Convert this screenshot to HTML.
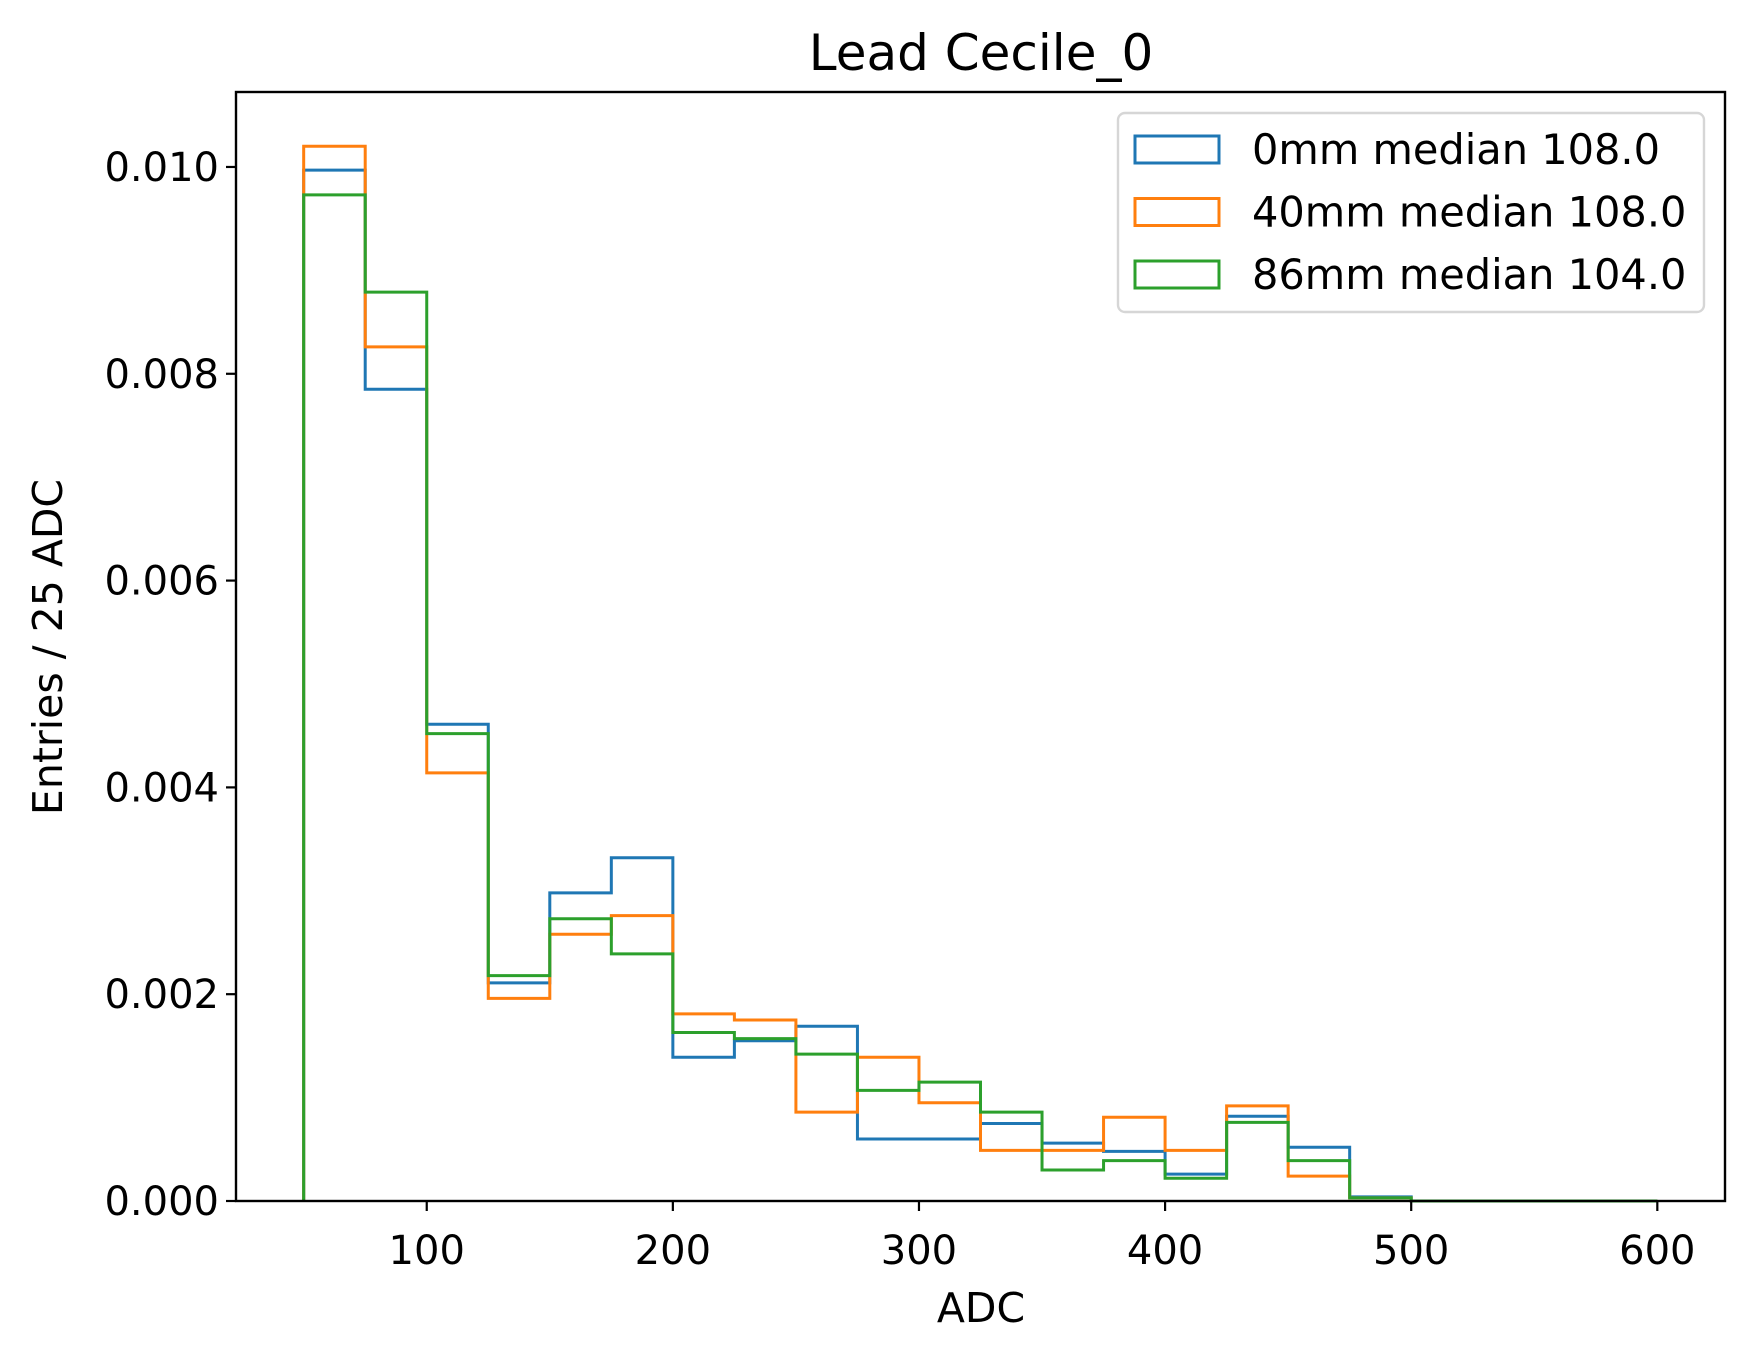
<!DOCTYPE html>
<html><head><meta charset="utf-8"><style>
body{margin:0;background:#fff;}
svg text{font-family:"DejaVu Sans","Liberation Sans",sans-serif;fill:#000;}
</style></head><body>
<svg id="chart" width="1755" height="1361" viewBox="0 0 1755 1361" xmlns="http://www.w3.org/2000/svg">
<rect width="1755" height="1361" fill="#fff"/>
<text x="981" y="70" font-size="50" text-anchor="middle">Lead Cecile_0</text>
<g id="marks"></g>
<rect x="236" y="92" width="1489" height="1109" fill="none" stroke="#000" stroke-width="2.4"/>
<g id="ticks"></g>
<text x="981" y="1322" font-size="41" text-anchor="middle">ADC</text>
<text transform="translate(62,647) rotate(-90)" font-size="41" text-anchor="middle">Entries / 25 ADC</text>
<g>
<rect x="1118" y="113" width="586" height="199" rx="7" fill="#fff" fill-opacity="0.8" stroke="#d6d6d6" stroke-width="2.4"/>
<g id="legend-entries"></g>
</g>
</svg>
<script>
const binEdges = [50,75,100,125,150,175,200,225,250,275,300,325,350,375,400,425,450,475,500,525,550,575,600];
const seriesNames = ["0mm median 108.0","40mm median 108.0","86mm median 104.0"];
const seriesColors = ["#1f77b4","#ff7f0e","#2ca02c"];
const blueValues = [0.00997,0.00785,0.00461,0.00211,0.00298,0.00332,0.00139,0.00155,0.00169,0.00060,0.00060,0.00075,0.00056,0.00048,0.00026,0.00082,0.00052,0.00004,0,0,0,0];
const orangeValues = [0.01020,0.00826,0.00414,0.00196,0.00258,0.00276,0.00181,0.00175,0.00086,0.00139,0.00095,0.00049,0.00049,0.00081,0.00049,0.00092,0.00024,0.00003,0,0,0,0];
const greenValues = [0.00973,0.00879,0.00452,0.00218,0.00273,0.00239,0.00163,0.00157,0.00142,0.00107,0.00115,0.00086,0.00030,0.00039,0.00022,0.00076,0.00039,0.00003,0,0,0,0];
const xTicks = [100,200,300,400,500,600];
const yTicks = [0,0.002,0.004,0.006,0.008,0.010];
const yTickLabels = ["0.000","0.002","0.004","0.006","0.008","0.010"];

const NS="http://www.w3.org/2000/svg";
const L=236,R=1725,T=92,B=1201;
const xMin=22.5,xMax=627.5,yMin=0,yMax=0.010725;
function xs(v){return L+(v-xMin)/(xMax-xMin)*(R-L);}
function ys(v){return B-(v-yMin)/(yMax-yMin)*(B-T);}

const marks=document.getElementById('marks');
[blueValues,orangeValues,greenValues].forEach((vals,si)=>{
  let d='M'+xs(binEdges[0])+','+ys(0);
  vals.forEach((v,i)=>{d+=' L'+xs(binEdges[i])+','+ys(v)+' L'+xs(binEdges[i+1])+','+ys(v);});
  d+=' L'+xs(binEdges[binEdges.length-1])+','+ys(0);
  const p=document.createElementNS(NS,'path');
  p.setAttribute('d',d);
  p.setAttribute('fill','none');
  p.setAttribute('stroke',seriesColors[si]);
  p.setAttribute('stroke-width','3');
  
  
  marks.appendChild(p);
});

const ticks=document.getElementById('ticks');
xTicks.forEach(t=>{
  const x=xs(t);
  const l=document.createElementNS(NS,'line');
  l.setAttribute('x1',x);l.setAttribute('x2',x);l.setAttribute('y1',B);l.setAttribute('y2',B+10);
  l.setAttribute('stroke','#000');l.setAttribute('stroke-width','2.2');
  
  
  ticks.appendChild(l);
  const tx=document.createElementNS(NS,'text');
  tx.setAttribute('x',x);tx.setAttribute('y',B+63);tx.setAttribute('font-size','40');tx.setAttribute('text-anchor','middle');
  tx.textContent=t;
  
  
  ticks.appendChild(tx);
});
yTicks.forEach((t,i)=>{
  const y=ys(t);
  const l=document.createElementNS(NS,'line');
  l.setAttribute('x1',L-10);l.setAttribute('x2',L);l.setAttribute('y1',y);l.setAttribute('y2',y);
  l.setAttribute('stroke','#000');l.setAttribute('stroke-width','2.2');
  
  
  ticks.appendChild(l);
  const tx=document.createElementNS(NS,'text');
  tx.setAttribute('x',L-17);tx.setAttribute('y',y+14);tx.setAttribute('font-size','40');tx.setAttribute('text-anchor','end');
  tx.textContent=yTickLabels[i];
  
  
  ticks.appendChild(tx);
});

const leg=document.getElementById('legend-entries');
seriesNames.forEach((n,i)=>{
  const cy=149+i*62.5;
  const r=document.createElementNS(NS,'rect');
  r.setAttribute('x',1135);r.setAttribute('y',cy-13);r.setAttribute('width',84);r.setAttribute('height',27);
  r.setAttribute('fill','none');r.setAttribute('stroke',seriesColors[i]);r.setAttribute('stroke-width','3');
  
  
  leg.appendChild(r);
  const tx=document.createElementNS(NS,'text');
  tx.setAttribute('x',1252);tx.setAttribute('y',cy+15);tx.setAttribute('font-size','41.5');
  tx.textContent=n;
  
  
  leg.appendChild(tx);
});
</script>
</body></html>
